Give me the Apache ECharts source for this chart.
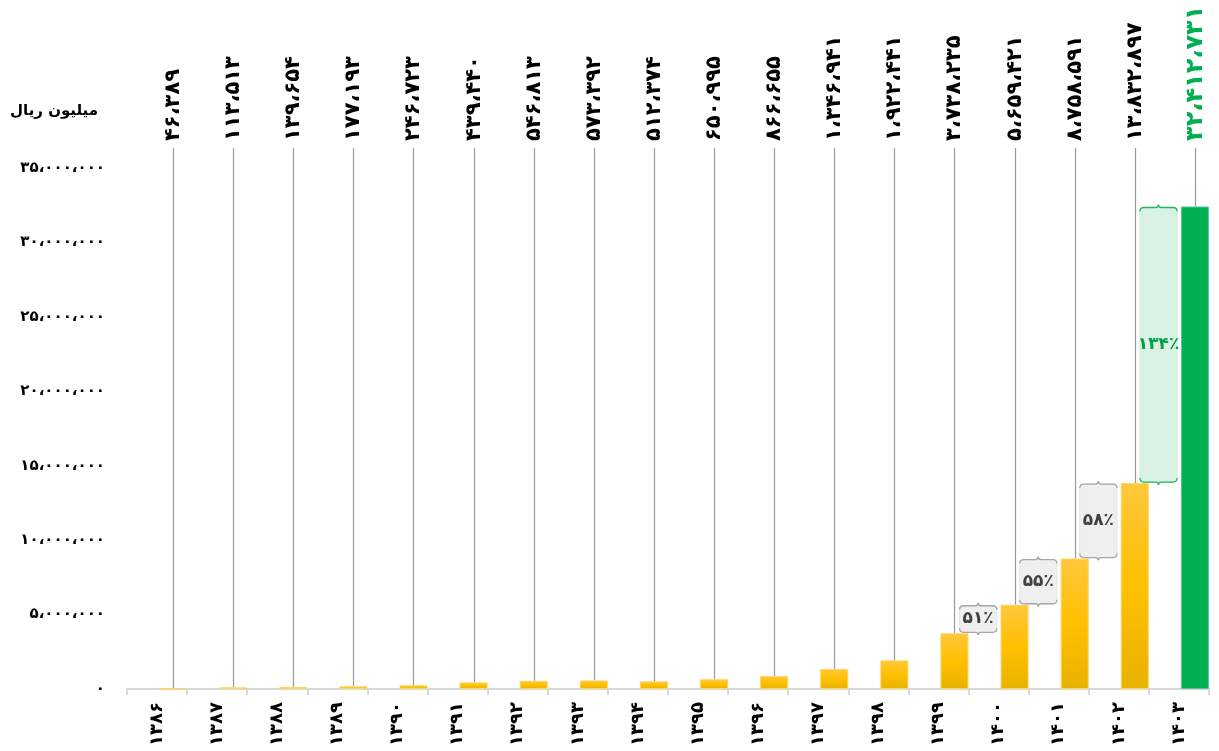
<!DOCTYPE html>
<html>
<head>
<meta charset="utf-8">
<script src="https://cdn.jsdelivr.net/npm/echarts@6/dist/echarts.min.js"></script>
<style>
html,body{margin:0;padding:0;background:#fff;}
#chart{width:1219px;height:751px;}
</style>
</head>
<body>
<div id="chart"></div>
<script>
// ---- data ----
var years = [1386,1387,1388,1389,1390,1391,1392,1393,1394,1395,1396,1397,1398,1399,1400,1401,1402,1403];
var values = [46389,113513,139654,177193,246723,439440,546813,573392,512374,650995,866655,1346941,1922441,3738235,5659421,8758591,13832897,32412731];
var growthYears = [1400,1401,1402,1403];
var growthPct = [51,55,58,134];
var yTicks = [0,5000000,10000000,15000000,20000000,25000000,30000000,35000000];
var unitLabel = 'میلیون ریال';

// ---- helpers ----
var FA = ['۰','۱','۲','۳','۴','۵','۶','۷','۸','۹'];
function toFa(n, sep) {
  var s = String(n);
  if (sep) s = s.replace(/\B(?=(\d{3})+(?!\d))/g, '،');
  return s.replace(/[0-9]/g, function (d) { return FA[+d]; });
}
var FONT = '"DejaVu Sans", sans-serif';
var GREEN = '#00B050';
var lastIdx = years.length - 1;

var barData = values.map(function (v, i) {
  if (i === lastIdx) {
    return { value: v, itemStyle: { color: GREEN, borderColor: '#56C98A', borderWidth: 1 } };
  }
  return v;
});

var growthData = growthYears.map(function (y, k) {
  var i = years.indexOf(y);
  return [i, values[i - 1], values[i], growthPct[k]];
});

var chart = echarts.init(document.getElementById('chart'), null, { renderer: 'canvas' });

function braceTop(x0, x1, y) {
  var xm = (x0 + x1) / 2, r = 4;
  return 'M' + x0 + ',' + (y + r) + ' Q' + x0 + ',' + y + ' ' + (x0 + r) + ',' + y +
    ' L' + (xm - 3) + ',' + y + ' Q' + xm + ',' + y + ' ' + xm + ',' + (y - 3) +
    ' Q' + xm + ',' + y + ' ' + (xm + 3) + ',' + y +
    ' L' + (x1 - r) + ',' + y + ' Q' + x1 + ',' + y + ' ' + x1 + ',' + (y + r);
}
function braceBottom(x0, x1, y) {
  var xm = (x0 + x1) / 2, r = 4;
  return 'M' + x0 + ',' + (y - r) + ' Q' + x0 + ',' + y + ' ' + (x0 + r) + ',' + y +
    ' L' + (xm - 3) + ',' + y + ' Q' + xm + ',' + y + ' ' + xm + ',' + (y + 3) +
    ' Q' + xm + ',' + y + ' ' + (xm + 3) + ',' + y +
    ' L' + (x1 - r) + ',' + y + ' Q' + x1 + ',' + y + ' ' + x1 + ',' + (y - r);
}

var option = {
  backgroundColor: '#ffffff',
  animation: false,
  textStyle: { fontFamily: FONT },
  grid: { left: 127, right: 10, top: 168, bottom: 62, containLabel: false },
  graphic: [{
    type: 'text', left: 10, top: 104,
    style: { text: unitLabel, font: 'bold 15px ' + FONT, fill: '#000' }
  }],
  xAxis: {
    type: 'category',
    data: years,
    axisLine: { show: true, lineStyle: { color: '#D9D9D9', width: 2 } },
    axisTick: { show: true, length: 6, lineStyle: { color: '#D9D9D9', width: 2 } },
    axisLabel: {
      rotate: 90, margin: 13, color: '#000', fontWeight: 'bold', fontSize: 18, fontFamily: FONT,
      formatter: function (v) { return toFa(v, false); }
    },
    splitLine: { show: false }
  },
  yAxis: {
    type: 'value', min: 0, max: 35000000, interval: 5000000,
    axisLine: { show: false }, axisTick: { show: false }, splitLine: { show: false },
    axisLabel: {
      margin: 22, color: '#000', fontWeight: 'bold', fontSize: 15, fontFamily: FONT,
      formatter: function (v) { return toFa(v, true); }
    }
  },
  series: [
    {
      name: 'spacer', type: 'bar', data: values.map(function () { return '-'; }),
      barWidth: 28, barGap: '14%', silent: true
    },
    {
      name: 'values', type: 'bar', data: barData, barWidth: 28, barGap: '14%',
      itemStyle: {
        color: { type: 'linear', x: 0, y: 0, x2: 0, y2: 1, colorStops: [
          { offset: 0, color: '#FFC73E' }, { offset: 0.5, color: '#FFC000' }, { offset: 1, color: '#E8B200' }] },
        borderColor: '#FFD456', borderWidth: 1
      },
      z: 3
    },
    {
      name: 'leaders', type: 'custom', clip: false, z: 2,
      data: values.map(function (v, i) { return [i, v]; }),
      renderItem: function (params, api) {
        var i = api.value(0);
        var p = api.coord([i, api.value(1)]);
        var bw = api.size([1, 0])[0];
        var x = Math.round(p[0] + bw * 0.266) + 0.5;
        var isLast = i === lastIdx;
        return {
          type: 'group',
          children: [
            { type: 'line', shape: { x1: x, y1: 148, x2: x, y2: p[1] },
              style: { stroke: '#9A9A9A', lineWidth: 1.2 } },
            { type: 'text', x: x, y: 141, rotation: Math.PI / 2,
              style: {
                text: toFa(api.value(1), true),
                font: 'bold ' + (isLast ? 24 : 21) + 'px ' + FONT,
                fill: isLast ? GREEN : '#000',
                align: 'left', verticalAlign: 'middle'
              } }
          ]
        };
      }
    },
    {
      name: 'growth', type: 'custom', clip: false, z: 4,
      data: growthData,
      renderItem: function (params, api) {
        var i = api.value(0);
        var pPrev = api.coord([i, api.value(1)]);
        var pCur = api.coord([i, api.value(2)]);
        var bw = api.size([1, 0])[0];
        var cx = pCur[0] - bw * 0.34;
        var w = bw * 0.62;
        var x0 = cx - w / 2, x1 = cx + w / 2;
        var yTop = pCur[1] + 1, yBot = pPrev[1] - 1;
        var isGreen = i === lastIdx;
        var fill = isGreen ? '#DAF2E3' : '#EFEFEF';
        var stroke = isGreen ? '#1DB862' : '#A6A6A6';
        return {
          type: 'group',
          children: [
            { type: 'rect', shape: { x: x0, y: yTop, width: w, height: yBot - yTop, r: 4 },
              style: { fill: fill, stroke: isGreen ? '#D2EEDD' : '#E6E6E6', lineWidth: 1 } },
            { type: 'path', shape: { pathData: braceTop(x0, x1, yTop) },
              style: { fill: null, stroke: stroke, lineWidth: 1.3 } },
            { type: 'path', shape: { pathData: braceBottom(x0, x1, yBot) },
              style: { fill: null, stroke: stroke, lineWidth: 1.3 } },
            { type: 'text', x: cx, y: (yTop + yBot) / 2,
              style: {
                text: toFa(api.value(3), false) + '٪',
                font: 'bold 17px ' + FONT,
                fill: isGreen ? '#00A04A' : '#404040',
                align: 'center', verticalAlign: 'middle'
              } }
          ]
        };
      }
    }
  ]
};
chart.setOption(option);
</script>
</body>
</html>
